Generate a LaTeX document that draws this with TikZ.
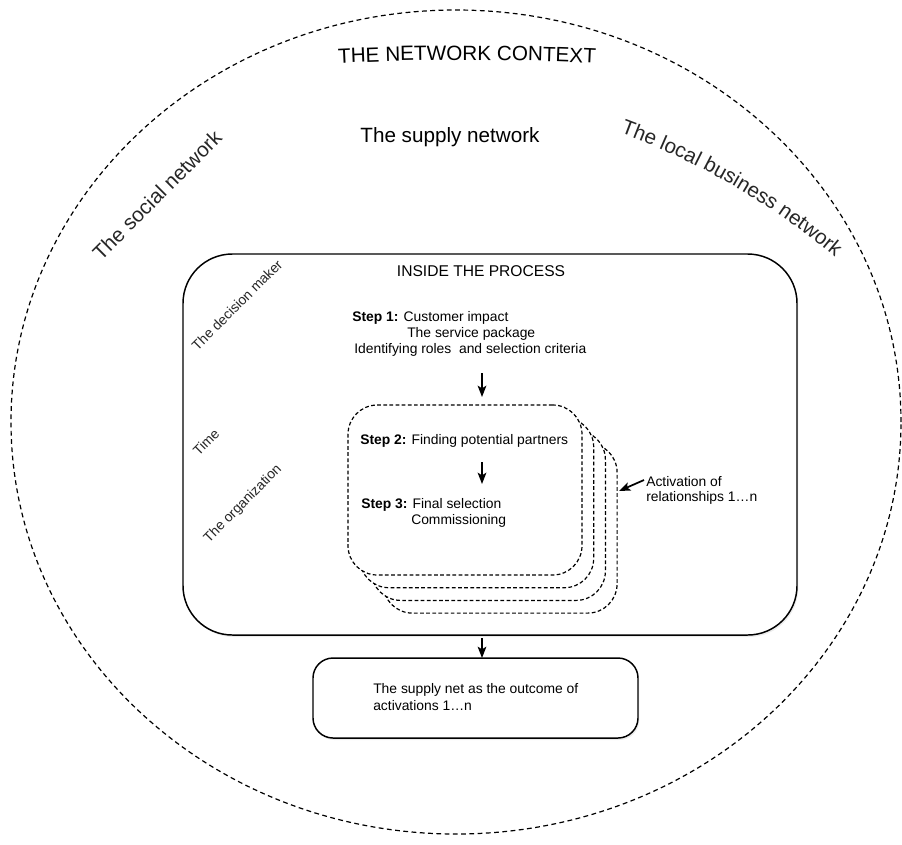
\documentclass[tikz,border=0pt]{standalone}
\usepackage{fontspec}
\setmainfont{Liberation Sans}
\usetikzlibrary{shapes.geometric,arrows.meta,decorations.text,shadows}
\newcommand\bigfont{\fontsize{15.5}{18}\selectfont}
\newcommand\midfont{\fontsize{11.7}{14}\selectfont}
\newcommand\smallfont{\fontsize{10.4}{12.5}\selectfont}
\begin{document}
\begin{tikzpicture}[x=0.75pt,y=0.75pt,
  ctxline/.style={draw, dash pattern=on 3.6pt off 2.6pt, line width=0.9pt},
  procbox/.style={draw, rounded corners=37pt, line width=1.1pt, fill=white,
    drop shadow={opacity=0.15, shadow xshift=1pt, shadow yshift=-1.5pt}},
  outbox/.style={draw, rounded corners=15pt, line width=1.1pt, fill=white,
    drop shadow={opacity=0.15, shadow xshift=1pt, shadow yshift=-1.5pt}},
  stackbox/.style={draw, dash pattern=on 2.8pt off 1.8pt, line width=0.9pt, fill=white,
    rounded corners=22pt, minimum width=175.5pt, minimum height=127.5pt},
  sidelabel/.style={text=black!85, font=\smallfont, inner sep=0pt},
  bigsidelabel/.style={text=black!85, font=\bigfont, inner sep=0pt},
  plain/.style={font=\smallfont, inner sep=0pt, anchor=west},
  arr/.style={-{Stealth[length=8.5pt,width=6.5pt,inset=2pt]}, line width=1.3pt}
]
\useasboundingbox (0,0) rectangle (902,-844);

% the network context
\node[ellipse, ctxline, minimum width=667.5pt, minimum height=618pt, inner sep=0pt] (ctx) at (456,-422) {};
\path[decorate, decoration={text along path, text align=center,
    text={|\bigfont|THE NETWORK CONTEXT}}]
  (467,-2760) ++(92.7:2700) arc[start angle=92.7, end angle=87.3, radius=2700];
\node[font=\bigfont, inner sep=0pt] (supply) at (450,-137) {The supply network};
\node[bigsidelabel, rotate=45] (social) at (157,-195) {The social network};
\path[decorate, decoration={text along path, text align=center,
    text={|\bigfont\color{black!85}|The local business network}}]
  (372,-811) ++(70:722) arc[start angle=70, end angle=50, radius=722];

% the process
\node[procbox, minimum width=460.5pt, minimum height=285.75pt] (proc) at (490,-444.5) {};
\node[font=\midfont, inner sep=0pt] (inside) at (481,-271) {INSIDE THE PROCESS};
\node[sidelabel, rotate=45] (decider) at (237,-305) {The decision maker};
\node[sidelabel, rotate=45] (time) at (206,-442) {Time};
\node[sidelabel, rotate=45] (org) at (243,-504) {The organization};

\node[plain] (s1a) at (352,-318) {\textbf{Step 1:} Customer impact};
\node[plain] (s1b) at (407,-334) {The service package};
\node[plain] (s1c) at (354,-350) {Identifying roles\ \ and selection criteria};

% stacked activation cards, back to front
\foreach \k in {3,2,1}
  \node[stackbox] (card\k) at (465+11.7*\k,-490-12.7*\k) {};
\node[stackbox] (card0) at (465,-490) {};

\node[plain] (s2) at (360,-441) {\textbf{Step 2:} Finding potential partners};
\node[plain] (s3a) at (361,-505) {\textbf{Step 3:} Final selection};
\node[plain] (s3b) at (411,-521) {Commissioning};

\node[plain] (act1) at (646,-482) {Activation of};
\node[plain] (act2) at (646,-498) {relationships 1\ldots n};

% outcome
\node[outbox, minimum width=243.75pt, minimum height=60pt] (out) at (475.5,-698) {};
\node[plain] (o1) at (373,-690) {The supply net as the outcome of};
\node[plain] (o2) at (373,-706) {activations 1\ldots n};

% connectors
\coordinate (a1s) at (482,-373);
\coordinate (a1e) at (482,-397);
\coordinate (a2s) at (482,-462);
\coordinate (a2e) at (482,-484);
\coordinate (a3s) at (482,-638);
\coordinate (a3e) at (482,-658);
\coordinate (a4s) at (644,-480);
\coordinate (a4e) at (619,-491);
\draw[arr] (a1s) -- (a1e);
\draw[arr] (a2s) -- (a2e);
\draw[arr] (a3s) -- (a3e);
\draw[arr] (a4s) -- (a4e);
\end{tikzpicture}
\end{document}
